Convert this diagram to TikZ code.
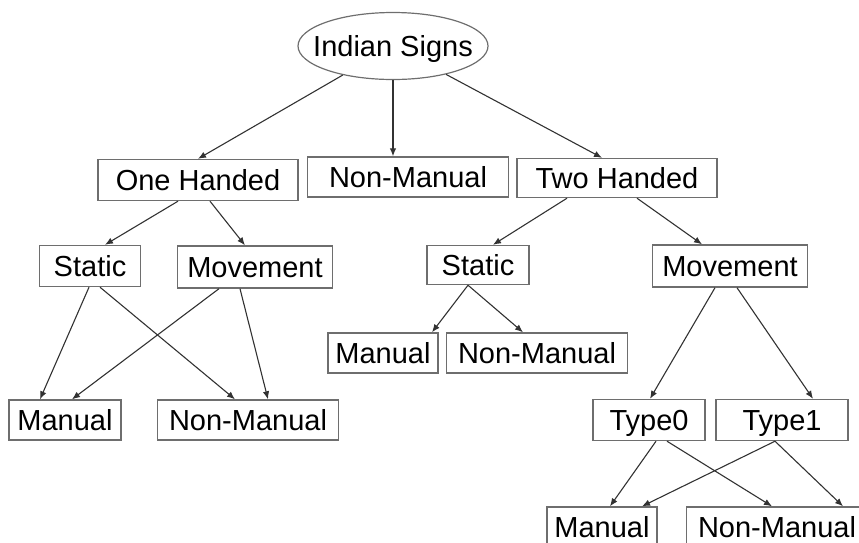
\documentclass[tikz,border=0pt]{standalone}
\usepackage{fontspec}
\setmainfont{Liberation Sans}
\usepackage{tikz}
\usetikzlibrary{shapes.geometric,arrows.meta}
\definecolor{cBox}{RGB}{110,110,110}
\definecolor{cArr}{RGB}{50,50,50}

\begin{document}
\begin{tikzpicture}[x=1pt,y=-1pt,
  lbl/.style={font=\fontsize{29}{32}\selectfont,text height=20.8pt,text depth=0pt,inner sep=0pt},
  box/.style={lbl,draw=cBox,line width=1.4pt,rectangle},
  arr/.style={cArr,line width=1.1pt,-{Latex[length=8pt,width=6.5pt]}}]
\useasboundingbox (0,0) rectangle (859,542);
\node[lbl,ellipse,draw=cBox,line width=1.2pt,inner xsep=-16pt,minimum width=190pt,minimum height=67pt] (root) at (393,46) {Indian Signs};
\node[box,minimum width=200pt,minimum height=41pt] (oh) at (198,180) {One Handed};
\node[box,minimum width=201pt,minimum height=40pt] (nm1) at (408,177) {Non-Manual};
\node[box,minimum width=200pt,minimum height=39pt] (th) at (617,178) {Two Handed};
\node[box,minimum width=101pt,minimum height=41pt] (stL) at (90,266) {Static};
\node[box,minimum width=155pt,minimum height=42pt] (mvL) at (255,267) {Movement};
\node[box,minimum width=102pt,minimum height=39pt] (stR) at (478,265) {Static};
\node[box,minimum width=155pt,minimum height=42pt] (mvR) at (730,266) {Movement};
\node[box,minimum width=110pt,minimum height=40pt] (manM) at (383,353) {Manual};
\node[box,minimum width=181pt,minimum height=40pt] (nmM) at (537,353) {Non-Manual};
\node[box,minimum width=112pt,minimum height=40pt] (manL) at (65,420) {Manual};
\node[box,minimum width=181pt,minimum height=40pt] (nmL) at (248,420) {Non-Manual};
\node[box,minimum width=112pt,minimum height=41pt] (t0) at (649,420) {Type0};
\node[box,minimum width=132pt,minimum height=41pt] (t1) at (782,420) {Type1};
\node[box,minimum width=110pt,minimum height=40pt] (manB) at (602,527) {Manual};
\node[box,minimum width=181pt,minimum height=40pt] (nmB) at (777,527) {Non-Manual};
% top level
\draw[arr] (root) -- (oh.north);
\draw[arr] (root.south) -- (root.south |- nm1.north);
\draw[arr] (root) -- ([xshift=-15pt]th.north);
% one / two handed
\draw[arr] ([xshift=-20pt]oh.south) -- ([xshift=15pt]stL.north);
\draw[arr] ([xshift=12pt]oh.south) -- ([xshift=-10pt]mvL.north);
\draw[arr] ([xshift=-50pt]th.south) -- ([xshift=15pt]stR.north);
\draw[arr] ([xshift=20pt]th.south) -- ([xshift=-28pt]mvR.north);
% left leaves
\draw[arr] ([xshift=-1pt]stL.south) -- ([xshift=-25pt]manL.north);
\draw[arr] ([xshift=10pt]stL.south) -- ([xshift=-13pt]nmL.north);
\draw[arr] ([xshift=-36pt]mvL.south) -- ([xshift=7pt]manL.north);
\draw[arr] ([xshift=-15pt]mvL.south) -- ([xshift=20pt]nmL.north);
% right side
\draw[arr] ([xshift=-10pt]stR.south) -- ([xshift=49pt]manM.north);
\draw[arr] ([xshift=-10pt]stR.south) -- ([xshift=-14pt]nmM.north);
\draw[arr] ([xshift=-15pt]mvR.south) -- ([xshift=1pt]t0.north);
\draw[arr] ([xshift=7pt]mvR.south) -- ([xshift=31pt]t1.north);
\draw[arr] ([xshift=7pt]t0.south) -- ([xshift=8pt]manB.north);
\draw[arr] ([xshift=18pt]t0.south) -- ([xshift=-5pt]nmB.north);
\draw[arr] ([xshift=-7pt]t1.south) -- ([xshift=40pt]manB.north);
\draw[arr] ([xshift=-7pt]t1.south) -- ([xshift=66pt]nmB.north);
\end{tikzpicture}
\end{document}
